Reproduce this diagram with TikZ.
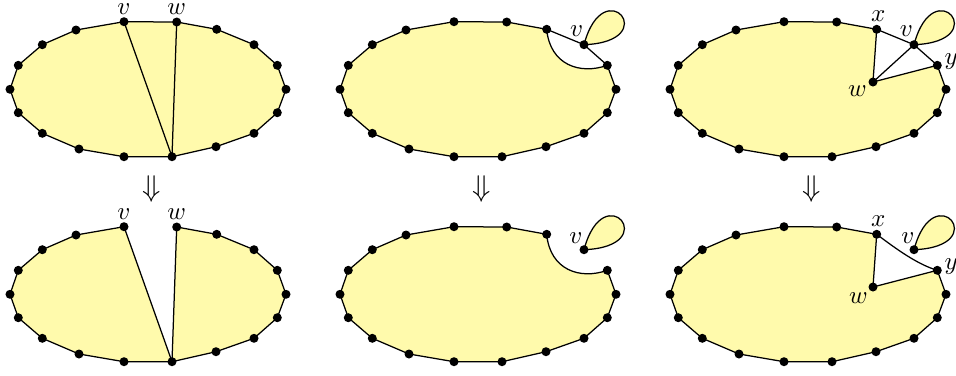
\documentclass[tikz,border=0pt]{standalone}
\definecolor{fillc}{RGB}{255,250,172}
\tikzset{
  dot/.style={circle,fill=black,inner sep=0pt,minimum size=3.6pt},
  poly/.style={fill=fillc,draw=black,line width=0.5pt,line join=round},
  edge/.style={draw=black,line width=0.5pt},
  lbl/.style={inner sep=0pt,anchor=base},
  arrowlbl/.style={inner sep=0pt,font=\large},
}
\newcommand{\mkverts}[1]{%
  \foreach \k/\px/\py in {0/286/89.3,1/277.3/65.3,2/254/44.7,3/216.7/29.3,4/176.7/22,5/124/21.7,6/76/30,7/42.3/44.7,8/18.3/65.3,9/10/89.3,10/18.3/112.7,11/42.3/133.3,12/79/149,13/124/156.7,14/172/156.7,15/216/146.7,16/254/133.3,17/277.3/112.7}{\coordinate (#1\k) at (\px,\py);}}
\newcommand{\mkdots}[1]{\foreach \k in {0,...,17}{\node[dot] (d#1\k) at (#1\k) {};}}
\begin{document}
\begin{tikzpicture}[x=0.4pt,y=-0.4pt]
\useasboundingbox (0,0) rectangle (956,375);

% ---------- panel 1 (top left)
\begin{scope}
  \mkverts{A}
  \path[poly] (A0) \foreach \k in {1,...,17}{-- (A\k)} -- cycle;
  \draw[edge] (A5) -- (A14) (A4) -- (A14);
  \mkdots{A}
  \node[lbl] (lAv) at (124,14.5) {$v$};
  \node[lbl] (lAw) at (176.7,14.5) {$w$};
\end{scope}

% ---------- panel 4 (bottom left)
\begin{scope}[shift={(0,205)}]
  \mkverts{D}
  \path[poly] (D5) \foreach \k in {6,...,14}{-- (D\k)} -- cycle;
  \path[poly] (D14) -- (D15) -- (D16) -- (D17) -- (D0) -- (D1) -- (D2) -- (D3) -- (D4) -- cycle;
  \mkdots{D}
  \node[lbl] (lDv) at (124,14) {$v$};
  \node[lbl] (lDw) at (176.7,14) {$w$};
\end{scope}

% ---------- panel 2 (top middle)
\begin{scope}[shift={(330,0)}]
  \mkverts{B}
  \path[poly] (B0) -- (B1) .. controls +(-27.3,9.7) and +(3.3,35.7) .. (B3) \foreach \k in {4,...,17}{-- (B\k)} -- cycle;
  \draw[edge] (B3) -- (B2) -- (B1);
  \path[poly] (B2) .. controls +(20,-75) and +(80,-3) .. (B2);
  \mkdots{B}
  \node[lbl] (lBv) at (246.7,36.7) {$v$};
\end{scope}

% ---------- panel 5 (bottom middle)
\begin{scope}[shift={(330,205)}]
  \mkverts{E}
  \path[poly] (E0) -- (E1) .. controls +(-27.3,9.7) and +(3.3,35.7) .. (E3) \foreach \k in {4,...,17}{-- (E\k)} -- cycle;
  \path[poly] (E2) .. controls +(20,-75) and +(80,-3) .. (E2);
  \mkdots{E}
  \node[lbl] (lEv) at (246,38) {$v$};
\end{scope}

% ---------- panel 3 (top right)
\begin{scope}[shift={(660,0)}]
  \mkverts{C}
  \coordinate (Cw) at (213,82);
  \path[poly] (C0) -- (C1) -- (Cw) -- (C3) \foreach \k in {4,...,17}{-- (C\k)} -- cycle;
  \draw[edge] (C3) -- (C2) -- (C1) (Cw) -- (C2);
  \path[poly] (C2) .. controls +(20,-75) and +(80,-3) .. (C2);
  \mkdots{C}
  \node[dot] (dCw) at (Cw) {};
  \node[lbl] (lCx) at (218.3,21.7) {$x$};
  \node[lbl] (lCv) at (246.3,36.7) {$v$};
  \node[lbl] (lCy) at (291.3,64) {$y$};
  \node[lbl] (lCw) at (197.5,96.7) {$w$};
\end{scope}

% ---------- panel 6 (bottom right)
\begin{scope}[shift={(660,205)}]
  \mkverts{F}
  \coordinate (Fw) at (213,82);
  \path[poly] (F0) -- (F1) -- (Fw) -- (F3) \foreach \k in {4,...,17}{-- (F\k)} -- cycle;
  \draw[edge] (F3) .. controls +(20,15) and +(-20,-6) .. (F1);
  \path[poly] (F2) .. controls +(20,-75) and +(80,-3) .. (F2);
  \mkdots{F}
  \node[dot] (dFw) at (Fw) {};
  \node[lbl] (lFx) at (218.3,21.7) {$x$};
  \node[lbl] (lFv) at (248,38.3) {$v$};
  \node[lbl] (lFy) at (291.3,64) {$y$};
  \node[lbl] (lFw) at (198.3,98.3) {$w$};
\end{scope}

% ---------- arrows
\node[arrowlbl] (arr1) at (151.5,189) {$\Downarrow$};
\node[arrowlbl] (arr2) at (481.5,189) {$\Downarrow$};
\node[arrowlbl] (arr3) at (811.5,189) {$\Downarrow$};
\end{tikzpicture}
\end{document}
